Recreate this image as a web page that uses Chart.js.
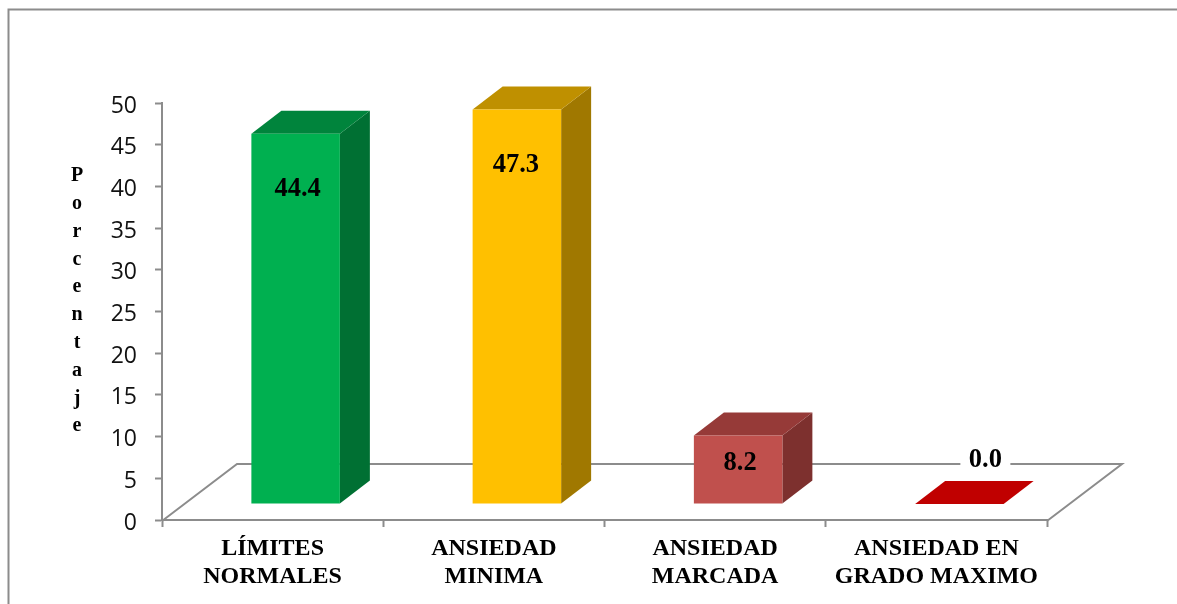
<!DOCTYPE html>
<html>
<head>
<meta charset="utf-8">
<style>html,body{margin:0;padding:0;background:#fff}canvas{display:block}</style>
<script src="https://cdn.jsdelivr.net/npm/chart.js@4"></script>
</head>
<body>
<canvas id="c" width="1177" height="604"></canvas>
<script>
const categories = [['LÍMITES','NORMALES'],['ANSIEDAD','MINIMA'],['ANSIEDAD','MARCADA'],['ANSIEDAD EN','GRADO MAXIMO']];
const values = [44.4, 47.3, 8.2, 0.0];
const axisLetters = ['P','o','r','c','e','n','t','a','j','e'];
const frontColors = ['#00B050','#FFC000','#C0504D','#C00000'];
const topColors = ['#00843C','#BF9000','#963A38','#C00000'];
const sideColors = ['#007033','#A07800','#7D302E','#C00000'];

const GRAY = '#8C8C8C';
const SERIF = '"Liberation Serif","Times New Roman",serif';
const FLOOR_DX = 75, FLOOR_DY = 57;   // depth of the floor
const BAR_DX = 23, BAR_DY = 16;       // gap from front of floor to the bar
const DEPTH_DX = 30, DEPTH_DY = 23;   // depth of a bar
const TICK_LABEL_DROP = 3;

const look3d = {
  id: 'look3d',
  afterLayout(chart) {
    const s = chart.scales.y;
    if (!s._dropped) {
      const orig = s._computeLabelItems;
      s._computeLabelItems = function (area) {
        const items = orig.call(this, area);
        items.forEach(it => { it.options.translation[1] += TICK_LABEL_DROP; });
        return items;
      };
      s._dropped = true;
    }
  },
  beforeDraw(chart) {
    const c = chart.ctx;
    c.save();
    c.strokeStyle = GRAY; c.lineWidth = 2;
    c.beginPath(); c.moveTo(1177, 9.5); c.lineTo(8.5, 9.5); c.lineTo(8.5, 604); c.stroke();
    c.restore();
  },
  beforeDatasetsDraw(chart) {
    const c = chart.ctx, a = chart.chartArea;
    const y0 = chart.scales.y.getPixelForValue(0) + 1;
    c.save();
    c.strokeStyle = GRAY; c.lineWidth = 2; c.lineJoin = 'miter';
    c.beginPath();
    c.moveTo(a.left, y0);
    c.lineTo(a.left + FLOOR_DX, y0 - FLOOR_DY);
    c.lineTo(a.right + FLOOR_DX, y0 - FLOOR_DY);
    c.lineTo(a.right, y0);
    c.stroke();
    c.restore();

    // side and top faces, then shift so that the library's own bars sit inside the floor
    c.save();
    c.translate(BAR_DX, -BAR_DY);
    chart.getDatasetMeta(0).data.forEach((bar, i) => {
      const p = bar.getProps(['x','y','base','width'], true);
      const l = p.x - p.width / 2, r = p.x + p.width / 2;
      c.fillStyle = sideColors[i];
      c.beginPath();
      c.moveTo(r, p.y); c.lineTo(r + DEPTH_DX, p.y - DEPTH_DY);
      c.lineTo(r + DEPTH_DX, p.base - DEPTH_DY); c.lineTo(r, p.base);
      c.closePath(); c.fill();
      c.fillStyle = topColors[i];
      c.beginPath();
      c.moveTo(l, p.y); c.lineTo(l + DEPTH_DX, p.y - DEPTH_DY);
      c.lineTo(r + DEPTH_DX, p.y - DEPTH_DY); c.lineTo(r, p.y);
      c.closePath(); c.fill();
    });
    c.restore();
    c.save();
    c.translate(BAR_DX, -BAR_DY);
  },
  afterDatasetsDraw(chart) {
    const c = chart.ctx;
    c.restore();
    c.save();
    c.font = 'bold 26.5px ' + SERIF;
    c.textAlign = 'center'; c.textBaseline = 'middle';
    chart.getDatasetMeta(0).data.forEach((bar, i) => {
      const p = bar.getProps(['x','y','base'], true);
      const h = p.base - p.y;
      const txt = values[i].toFixed(1);
      let x = p.x + BAR_DX + (values[i] === Math.max(...values) ? -1 : 2), y;
      if (h > 0) {
        y = p.y - BAR_DY + (h > 100 ? 55.5 : 28);
      } else {
        x += DEPTH_DX - 6;
        y = p.y - BAR_DY - 44;
        c.fillStyle = '#fff';
        c.fillRect(x - 25, y - 15, 50, 30);
      }
      c.fillStyle = '#000';
      c.fillText(txt, x, y);
    });
    c.font = 'bold 20px ' + SERIF;
    axisLetters.forEach((ch, i) => c.fillText(ch, 77, 176 + i * 27.8));
    c.restore();
  }
};

new Chart(document.getElementById('c'), {
  type: 'bar',
  data: {
    labels: categories,
    datasets: [{
      data: values,
      backgroundColor: frontColors,
      borderWidth: 0,
      barPercentage: 0.4,
      categoryPercentage: 1
    }]
  },
  options: {
    responsive: false,
    animation: false,
    devicePixelRatio: 1,
    layout: { padding: { top: 103, right: 130, left: 0, bottom: 0 } },
    plugins: { legend: { display: false }, tooltip: { enabled: false }, title: { display: false } },
    scales: {
      x: {
        afterFit(s) { s.height = 84; },
        grid: { drawOnChartArea: false, drawTicks: true, tickLength: 7, tickColor: GRAY, tickWidth: 2 },
        border: { color: GRAY, width: 2 },
        ticks: {
          color: '#000', padding: 8, maxRotation: 0, autoSkip: false,
          font: { family: SERIF, size: 24, weight: 'bold', lineHeight: 1.16 }
        }
      },
      y: {
        min: 0, max: 50,
        afterFit(s) { s.width = 162; },
        grid: { drawOnChartArea: false, drawTicks: true, tickLength: 7, tickColor: GRAY, tickWidth: 2 },
        border: { color: GRAY, width: 2 },
        ticks: {
          stepSize: 5, color: '#111', padding: 18,
          font: { family: '"Open Sans"', size: 23 }
        }
      }
    }
  },
  plugins: [look3d]
});
</script>
</body>
</html>
